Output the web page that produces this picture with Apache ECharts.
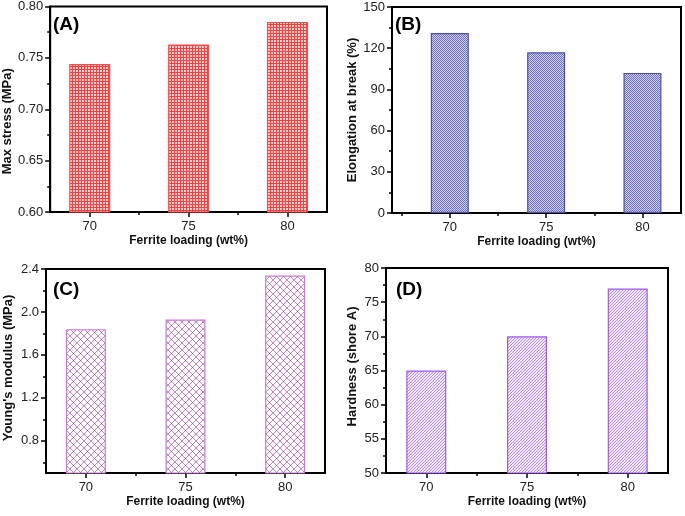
<!DOCTYPE html>
<html>
<head>
<meta charset="utf-8">
<script src="https://cdn.jsdelivr.net/npm/echarts@6/dist/echarts.min.js"></script>
<style>
  html, body { margin: 0; padding: 0; background: #fff; }
  #chart { width: 685px; height: 516px; }
</style>
</head>
<body>
<div id="chart"></div>
<script>
// ferrite loading (wt%)
var loading = [70, 75, 80];
var loadTicks = [70, 75, 80];
var loadMinor = [67.5, 72.5, 77.5];

// (A) max stress
var maxStress = [0.744, 0.763, 0.785];
var stressTicks = [0.60, 0.65, 0.70, 0.75, 0.80];
var stressMinor = [0.625, 0.675, 0.725, 0.775];

// (B) elongation at break
var elongation = [131, 117, 102];
var elongTicks = [0, 30, 60, 90, 120, 150];
var elongMinor = [15, 45, 75, 105, 135];

// (C) young's modulus
var youngs = [1.84, 1.93, 2.34];
var youngTicks = [0.8, 1.2, 1.6, 2.0, 2.4];
var youngMinor = [0.6, 1.0, 1.4, 1.8, 2.2];

// (D) hardness
var hardness = [65, 70, 77];
var hardTicks = [50, 55, 60, 65, 70, 75, 80];
var hardMinor = [52.5, 57.5, 62.5, 67.5, 72.5, 77.5];

var FONT = "'Liberation Sans', Arial, sans-serif";

//画填充图案
function makePattern(kind) {
    var size = {grid: 3, dots: 2, cross: 7, hatch: 3}[kind];
    var c = document.createElement('canvas');
    c.width = size;
    c.height = size;
    var ctx = c.getContext('2d');
    for (var x = 0; x < size; x++) {
        for (var y = 0; y < size; y++) {
            var col;
            if (kind == 'grid') {
                col = (x == 0 || y == 0) ? '#ff3d3d' : '#ffd2d2';
            } else if (kind == 'dots') {
                col = ((x + y) % 2 == 0) ? '#6a6af5' : '#d2d2ff';
            } else if (kind == 'cross') {
                if (x == 3 && y == 3) col = '#a040a8';
                else if (x == y || x + y == 6) col = '#cc80d0';
                else col = '#ffffff';
            } else {
                col = ((x + y) % 3 == 0) ? '#b28ef4' : '#f1e8ff';
            }
            ctx.fillStyle = col;
            ctx.fillRect(x, y, 1, 1);
        }
    }
    return {image: c, repeat: 'repeat'};
}

var panels = [
    {tag: '(A)', name: 'Max stress (MPa)', values: maxStress, ticks: stressTicks, minor: stressMinor,
        ymin: 0.6, ymax: 0.8, xmin: 68, xmax: 82, digits: 2, namePad: [0, 24, 0, 0],
        grid: {left: 49, right: 358, top: 6, bottom: 304}, nameGap: 36, tagPos: [53, 15],
        fill: makePattern('grid'), border: '#ff4a4a', barWidth: 41},
    {tag: '(B)', name: 'Elongation at break (%)', values: elongation, ticks: elongTicks, minor: elongMinor,
        ymin: 0, ymax: 150, xmin: 67, xmax: 82, digits: 0, namePad: 0,
        grid: {left: 392, right: 4, top: 7, bottom: 303}, nameGap: 31, tagPos: [395, 15],
        fill: makePattern('dots'), border: '#50509a', barWidth: 38},
    {tag: '(C)', name: "Young's modulus (MPa)", values: youngs, ticks: youngTicks, minor: youngMinor,
        ymin: 0.5, ymax: 2.4, xmin: 68, xmax: 82, digits: 1, namePad: [0, 0, 0, 6],
        grid: {left: 46, right: 360, top: 269, bottom: 43}, nameGap: 31, tagPos: [53, 280],
        fill: makePattern('cross'), border: '#c67ad0', barWidth: 40},
    {tag: '(D)', name: 'Hardness (shore A)', values: hardness, ticks: hardTicks, minor: hardMinor,
        ymin: 50, ymax: 80, xmin: 68, xmax: 82, digits: 0, namePad: [0, 0, 0, 8],
        grid: {left: 386, right: 17, top: 268, bottom: 43}, nameGap: 27, tagPos: [396, 280],
        fill: makePattern('hatch'), border: '#9a5af0', barWidth: 40}
];

var option = {
    animation: false,
    backgroundColor: '#fff',
    textStyle: {fontFamily: FONT},
    grid: [], xAxis: [], yAxis: [], series: [], title: []
};

panels.forEach(function (p, i) {
    var g = p.grid;
    option.grid.push({
        left: g.left, right: g.right, top: g.top, bottom: g.bottom,
        show: true, borderColor: '#000', borderWidth: 2, backgroundColor: 'transparent'
    });
    // 主刻度 + 标签
    option.xAxis.push({
        type: 'value', gridIndex: i, position: 'bottom', min: p.xmin, max: p.xmax,
        name: 'Ferrite loading (wt%)', nameLocation: 'middle', nameGap: 23,
        nameTextStyle: {fontFamily: FONT, fontWeight: 'bold', fontSize: 12, color: '#111'},
        axisLine: {show: true, onZero: false, lineStyle: {color: '#000', width: 2}},
        axisTick: {show: true, length: 5, customValues: loadTicks, lineStyle: {color: '#000', width: 1.5}},
        axisLabel: {show: true, customValues: loadTicks, margin: 8, fontFamily: FONT, fontSize: 13, color: '#222'},
        splitLine: {show: false}
    });
    // 次刻度
    option.xAxis.push({
        type: 'value', gridIndex: i, position: 'bottom', min: p.xmin, max: p.xmax,
        axisLine: {show: false, onZero: false},
        axisTick: {show: true, length: 3, customValues: p.xmin < 67.5 ? loadMinor : loadMinor.slice(1), lineStyle: {color: '#000', width: 1.5}},
        axisLabel: {show: false}, splitLine: {show: false}
    });
    option.yAxis.push({
        type: 'value', gridIndex: i, position: 'left', min: p.ymin, max: p.ymax,
        name: p.name, nameLocation: 'middle', nameGap: p.nameGap,
        nameTextStyle: {fontFamily: FONT, fontWeight: 'bold', fontSize: 13, color: '#111', padding: p.namePad},
        axisLine: {show: true, onZero: false, lineStyle: {color: '#000', width: 2}},
        axisTick: {show: true, length: 5, customValues: p.ticks, lineStyle: {color: '#000', width: 1.5}},
        axisLabel: {
            show: true, customValues: p.ticks, margin: 7, fontFamily: FONT, fontSize: 13, color: '#222',
            formatter: (function (d) {
                return function (v) { return v.toFixed(d); };
            })(p.digits)
        },
        splitLine: {show: false}
    });
    option.yAxis.push({
        type: 'value', gridIndex: i, position: 'left', min: p.ymin, max: p.ymax,
        axisLine: {show: false, onZero: false},
        axisTick: {show: true, length: 3, customValues: p.minor, lineStyle: {color: '#000', width: 1.5}},
        axisLabel: {show: false}, splitLine: {show: false}
    });
    option.series.push({
        type: 'bar', xAxisIndex: i * 2, yAxisIndex: i * 2,
        barWidth: p.barWidth,
        data: loading.map(function (x, k) { return [x, p.values[k]]; }),
        itemStyle: {color: p.fill, borderColor: p.border, borderWidth: 1.2},
        clip: true
    });
    option.title.push({
        text: p.tag, left: p.tagPos[0], top: p.tagPos[1], padding: 0,
        textStyle: {fontFamily: FONT, fontWeight: 'bold', fontSize: 19, color: '#000'}
    });
});

var chart = echarts.init(document.getElementById('chart'), null, {renderer: 'canvas'});
chart.setOption(option);
</script>
</body>
</html>
